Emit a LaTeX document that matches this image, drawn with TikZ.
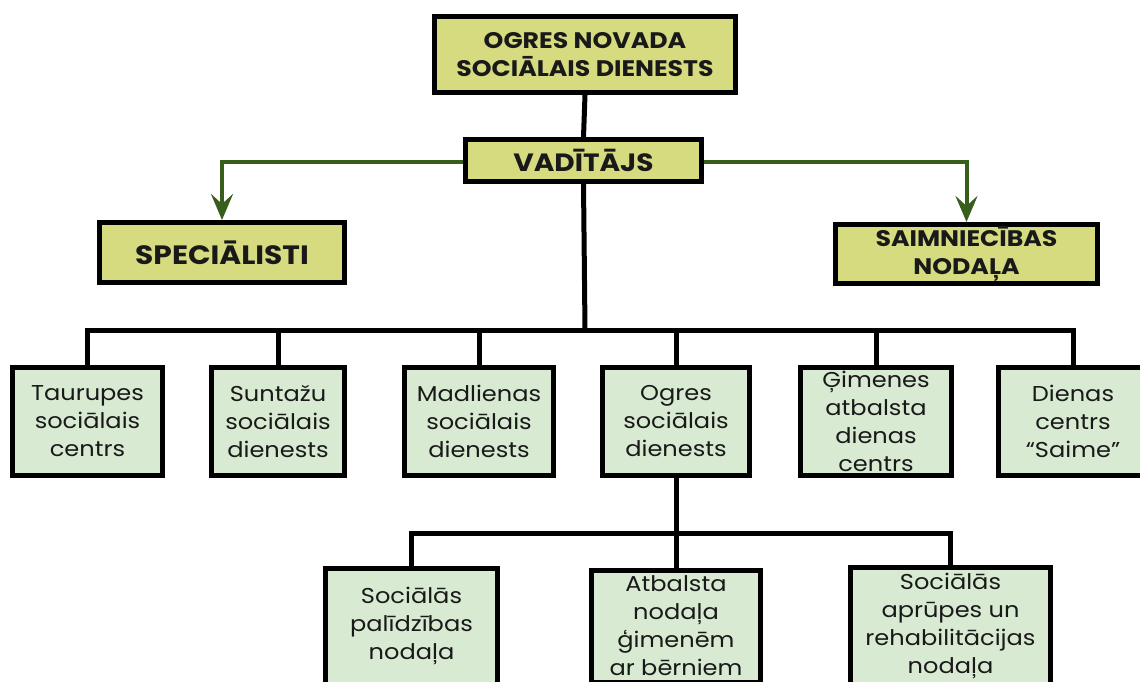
\documentclass[tikz,border=0pt]{standalone}
\usepackage{fontspec}
\setmainfont{Poppins}[FakeStretch=1.12]
\usetikzlibrary{arrows.meta}
\definecolor{boxyellow}{RGB}{214,219,128}
\definecolor{boxgreen}{RGB}{217,234,211}
\definecolor{linegreen}{RGB}{56,94,28}
\definecolor{txt}{RGB}{25,25,25}
\tikzset{
  headbox/.style={draw=black, line width=5pt, fill=boxyellow, inner sep=0pt, align=center, text=txt,
    font=\fontsize{22.5}{28}\selectfont\bfseries},
  unitbox/.style={draw=black, line width=5pt, fill=boxgreen, inner sep=0pt, align=center, text=txt,
    font=\fontsize{21.5}{28}\selectfont},
  conn/.style={draw=black, line width=5pt},
  greenarrow/.style={draw=linegreen, line width=4pt, -{Stealth[length=26pt,width=22pt,inset=10pt]}}
}
\begin{document}
\begin{tikzpicture}[x=1pt,y=-1pt]
\useasboundingbox (0,0) rectangle (1140,682);
% head boxes
\node[headbox, minimum width=301pt, minimum height=76pt] (top) at (585,54.5) {OGRES NOVADA\\SOCIĀLAIS DIENESTS};
\node[headbox, minimum width=236pt, minimum height=42pt, font=\fontsize{25}{30}\selectfont\bfseries] (vad) at (583.5,160.5) {VADĪTĀJS};
\node[headbox, minimum width=245pt, minimum height=60pt, font=\fontsize{26.5}{30}\selectfont\bfseries] (spec) at (222,252.5) {SPECIĀLISTI};
\node[headbox, minimum width=262pt, minimum height=59pt] (saim) at (966.5,254) {SAIMNIECĪBAS\\NODAĻA};
% row boxes
\node[unitbox, minimum width=150pt, minimum height=108pt] (taur) at (87.5,421.5) {Taurupes\\sociālais\\centrs};
\node[unitbox, minimum width=133pt, minimum height=108pt] (sunt) at (278,421.5) {Suntažu\\sociālais\\dienests};
\node[unitbox, minimum width=149pt, minimum height=108pt] (madl) at (479,421.5) {Madlienas\\sociālais\\dienests};
\node[unitbox, minimum width=147pt, minimum height=108pt] (ogre) at (676,421.5) {Ogres\\sociālais\\dienests};
\node[unitbox, minimum width=151pt, minimum height=108pt] (gime) at (876,421.5) {Ģimenes\\atbalsta\\dienas\\centrs};
\node[unitbox, minimum width=150pt, minimum height=108pt] (dien) at (1073,421.5) {Dienas\\centrs\\“Saime”};
% bottom boxes
\node[unitbox, minimum width=172pt, minimum height=116pt] (pali) at (411.5,626) {Sociālās\\palīdzības\\nodaļa};
\node[unitbox, minimum width=169pt, minimum height=112pt] (atba) at (676,626) {Atbalsta\\nodaļa\\ģimenēm\\ar bērniem};
\node[unitbox, minimum width=200pt, minimum height=118pt] (apru) at (950.5,626) {Sociālās\\aprūpes un\\rehabilitācijas\\nodaļa};
% coordinates
\coordinate (bar) at (585,330);
\coordinate (bar2) at (676,533);
% connectors
\draw[conn] (top.south) -- (vad.north);
\draw[conn] (vad.south) -- (bar);
\draw[conn] (bar) -| (taur.north);
\draw[conn] (bar) -| (sunt.north);
\draw[conn] (bar) -| (madl.north);
\draw[conn] (bar) -| (ogre.north);
\draw[conn] (bar) -| (gime.north);
\draw[conn] (bar) -| (dien.north);
\draw[conn] (ogre.south) -- (bar2);
\draw[conn] (bar2) -| (pali.north);
\draw[conn] (bar2) -| (atba.north);
\draw[conn] (bar2) -| (apru.north);
\draw[greenarrow] ([yshift=-1.5pt]vad.west) -| (spec.north);
\draw[greenarrow] ([yshift=-1.5pt]vad.east) -| (saim.north);
\end{tikzpicture}
\end{document}
